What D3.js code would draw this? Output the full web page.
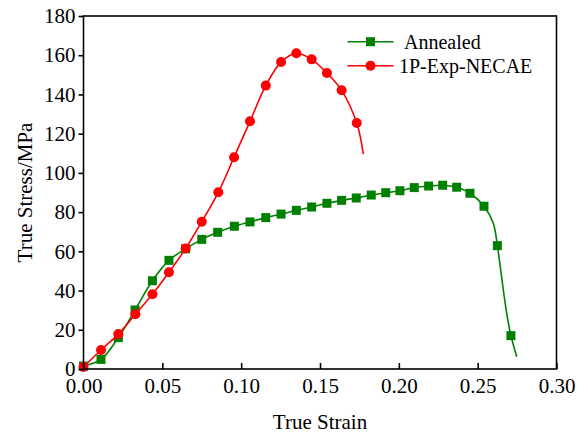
<!DOCTYPE html>
<html>
<head>
<style>
  body { margin: 0; background: #fff; }
  svg text { font-family: "Liberation Serif", "Times New Roman", serif; fill: #000; }
</style>
</head>
<body>
<svg width="588" height="437"></svg>
<script src="https://cdn.jsdelivr.net/npm/d3@7"></script>
<script>
// marker points
var strainAnnealed = [0, 0.0111, 0.0221, 0.0327, 0.0437, 0.0542, 0.0648, 0.075, 0.0851, 0.0957, 0.1056, 0.1156, 0.1253, 0.135, 0.1447, 0.1544, 0.1637, 0.173, 0.1825, 0.1917, 0.2007, 0.2098, 0.2189, 0.2278, 0.2367, 0.2451, 0.254, 0.2625, 0.2711];
var stressAnnealed = [1.5, 4.9, 16.0, 30.1, 45.0, 55.4, 61.3, 66.1, 69.7, 72.8, 75.0, 77.2, 79.0, 80.9, 82.6, 84.5, 86.0, 87.2, 88.7, 89.9, 90.9, 92.5, 93.3, 93.7, 92.7, 89.6, 83.0, 62.9, 17.0];
// extra points on the line between / after markers
var traceStrainAnnealed = [0.2599, 0.2646, 0.2684, 0.2748];
var traceStressAnnealed = [74.3, 50.5, 28.4, 6.3];

var strainNecae = [0, 0.0111, 0.0221, 0.0329, 0.0437, 0.0542, 0.0648, 0.075, 0.0855, 0.0955, 0.1056, 0.1156, 0.1253, 0.135, 0.1447, 0.1544, 0.1637, 0.1733];
var stressNecae = [1, 9.7, 17.8, 27.9, 38.1, 49.3, 61.5, 75.1, 90.1, 108.0, 126.3, 144.5, 156.5, 161.0, 157.9, 150.9, 142.1, 125.4];
var traceStrainNecae = [0.1775];
var traceStressNecae = [109.6];

var seriesNames = ["Annealed", "1P-Exp-NECAE"];
var xTicks = [0, 0.05, 0.10, 0.15, 0.20, 0.25, 0.30];
var yTicks = [0, 20, 40, 60, 80, 100, 120, 140, 160, 180];

var serif = "'Liberation Serif', 'Times New Roman', serif";

var svg = d3.select("svg"),
    margin = {top: 16, right: 31.5, bottom: 68, left: 83.5},
    width = +svg.attr("width") - margin.left - margin.right,
    height = +svg.attr("height") - margin.top - margin.bottom,
    g = svg.append("g").attr("transform", "translate(" + margin.left + "," + margin.top + ")");

var x = d3.scaleLinear().domain([0, 0.30]).range([0, width]);
var y = d3.scaleLinear().domain([0, 180]).range([height, 0]);

function pts(xs, ys) {
  return xs.map(function(d, i) { return [d, ys[i]]; });
}
function linePts(xs, ys, tx, ty) {
  return pts(xs, ys).concat(pts(tx, ty)).sort(function(a, b) { return a[0] - b[0]; });
}

var line = d3.line()
  .x(function(d) { return x(d[0]); })
  .y(function(d) { return y(d[1]); })
  .curve(d3.curveCatmullRom.alpha(0.5));

// annealed
g.append("path")
  .datum(linePts(strainAnnealed, stressAnnealed, traceStrainAnnealed, traceStressAnnealed))
  .attr("fill", "none").attr("stroke", "#008000").attr("stroke-width", 1.6)
  .attr("d", line);
g.selectAll(".sq").data(pts(strainAnnealed, stressAnnealed)).enter().append("rect")
  .attr("class", "sq")
  .attr("x", function(d) { return x(d[0]) - 4.5; })
  .attr("y", function(d) { return y(d[1]) - 4.5; })
  .attr("width", 9).attr("height", 9)
  .attr("fill", "#008000");

// NECAE
g.append("path")
  .datum(linePts(strainNecae, stressNecae, traceStrainNecae, traceStressNecae))
  .attr("fill", "none").attr("stroke", "#ff0000").attr("stroke-width", 1.6)
  .attr("d", line);
g.selectAll(".ci").data(pts(strainNecae, stressNecae)).enter().append("circle")
  .attr("class", "ci")
  .attr("cx", function(d) { return x(d[0]); })
  .attr("cy", function(d) { return y(d[1]); })
  .attr("r", 5)
  .attr("fill", "#ff0000");

// frame
g.append("rect")
  .attr("width", width).attr("height", height)
  .attr("fill", "none").attr("stroke", "#000").attr("stroke-width", 1.6);

// x axis, ticks inward
var xAxis = g.append("g")
  .attr("transform", "translate(0," + height + ")")
  .call(d3.axisBottom(x).tickValues(xTicks).tickFormat(d3.format(".2f")).tickSize(-6).tickPadding(9));
xAxis.attr("font-family", null).attr("font-size", null);
xAxis.select(".domain").remove();
xAxis.selectAll("line").attr("stroke-width", 1.6);
xAxis.selectAll("text").style("font-family", serif).style("font-size", "21px");

// y axis, ticks outward
var yAxis = g.append("g")
  .call(d3.axisLeft(y).tickValues(yTicks).tickSize(5).tickPadding(3));
yAxis.attr("font-family", null).attr("font-size", null);
yAxis.select(".domain").remove();
yAxis.selectAll("line").attr("stroke-width", 1.6);
yAxis.selectAll("text").style("font-family", serif).style("font-size", "21px");

svg.append("text")
  .attr("x", margin.left + width / 2).attr("y", 429)
  .attr("text-anchor", "middle").style("font-size", "21px")
  .text("True Strain");
svg.append("text")
  .attr("transform", "translate(32," + (margin.top + height / 2) + ") rotate(-90)")
  .attr("text-anchor", "middle").style("font-size", "21px")
  .text("True Stress/MPa");

// legend
var legend = svg.append("g");
var lg = [
  {name: seriesNames[0], color: "#008000", shape: "square", y: 41.7, tx: 404},
  {name: seriesNames[1], color: "#ff0000", shape: "circle", y: 65.7, tx: 399}
];
lg.forEach(function(d) {
  legend.append("line")
    .attr("x1", 347.5).attr("x2", 393.5).attr("y1", d.y).attr("y2", d.y)
    .attr("stroke", d.color).attr("stroke-width", 1.6);
  if (d.shape == "square") {
    legend.append("rect").attr("x", 370.5 - 4.5).attr("y", d.y - 4.5)
      .attr("width", 9).attr("height", 9).attr("fill", d.color);
  } else {
    legend.append("circle").attr("cx", 370.5).attr("cy", d.y).attr("r", 5).attr("fill", d.color);
  }
  legend.append("text")
    .attr("x", d.tx).attr("y", d.y + 7)
    .style("font-size", "20px")
    .text(d.name);
});
</script>
</body>
</html>
